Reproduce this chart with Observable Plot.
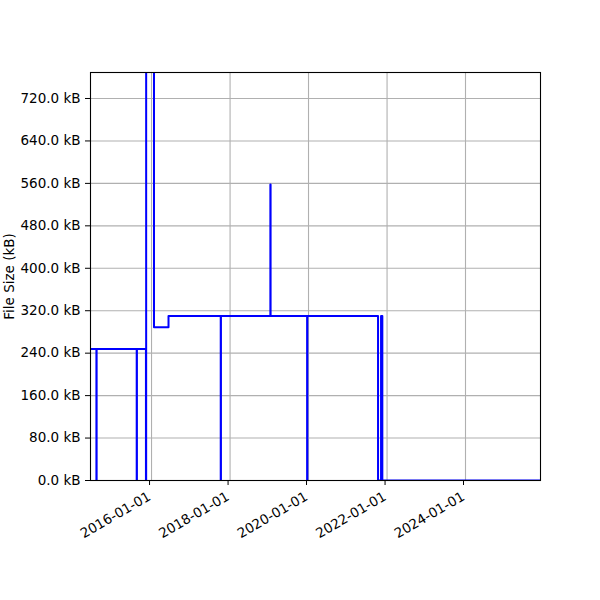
<!DOCTYPE html>
<html>
<head>
<meta charset="utf-8">
<script src="https://cdn.jsdelivr.net/npm/d3@7"></script>
<script src="https://cdn.jsdelivr.net/npm/@observablehq/plot@0.6"></script>
<style>
  html, body { margin: 0; padding: 0; background: #fff; }
  #chart { width: 600px; height: 600px; }
</style>
</head>
<body>
<div id="chart"></div>
<script>
// Change dates (step-after) and file sizes in kB
const dates = [
  "2014-06-12", "2014-08-06", "2014-08-08", "2015-08-16", "2015-08-18",
  "2015-11-10", "2015-11-12", "2016-01-24", "2016-06-07",
  "2017-10-06", "2017-10-08", "2019-01-11", "2019-01-13",
  "2019-12-19", "2019-12-21", "2021-10-09", "2021-11-06", "2021-11-18",
  "2025-11-29"
];
const sizes = [
  248, 0, 248, 0, 248,
  0, 1500, 289, 310,
  0, 310, 558, 310,
  0, 310, 0, 310, 0,
  0
];
const yTicks = [0, 80, 160, 240, 320, 400, 480, 560, 640, 720];
const xTickLabels = ["2016-01-01", "2018-01-01", "2020-01-01", "2022-01-01", "2024-01-01"];
const xDomain = ["2014-06-12", "2025-11-29"];
const yDomain = [0, 769];
const yLabel = "File Size (kB)";

const parse = d3.utcParse("%Y-%m-%d");
const data = dates.map((d, i) => ({date: parse(d), size: sizes[i]}));
const xTicks = xTickLabels.map(parse);

const chart = Plot.plot({
  width: 600,
  height: 600,
  marginLeft: 90,
  marginRight: 60,
  marginTop: 72,
  marginBottom: 120,
  style: {fontFamily: "'DejaVu Sans', sans-serif", fontSize: "13.5px", background: "#fff", color: "#000"},
  x: {type: "utc", domain: xDomain.map(parse)},
  y: {domain: yDomain},
  marks: [
    Plot.gridX(xTicks, {stroke: "#b0b0b0", strokeOpacity: 1, strokeWidth: 1.1}),
    Plot.gridY(yTicks, {stroke: "#b0b0b0", strokeOpacity: 1, strokeWidth: 1.1}),
    Plot.lineY(data, {x: "date", y: "size", curve: "step-after", stroke: "#0000ff", strokeWidth: 2, clip: true}),
    Plot.frame({stroke: "#000", strokeWidth: 1.1}),
    Plot.axisX(xTicks, {tickFormat: d3.utcFormat("%Y-%m-%d"), tickRotate: -30, tickSize: 5, tickPadding: 10, dx: -2, label: null}),
    Plot.axisY(yTicks, {tickFormat: d => d.toFixed(1) + " kB", tickSize: 5, tickPadding: 5,
      label: yLabel, labelAnchor: "center", labelArrow: "none", labelOffset: 86})
  ]
});
document.getElementById("chart").appendChild(chart);
</script>
</body>
</html>
